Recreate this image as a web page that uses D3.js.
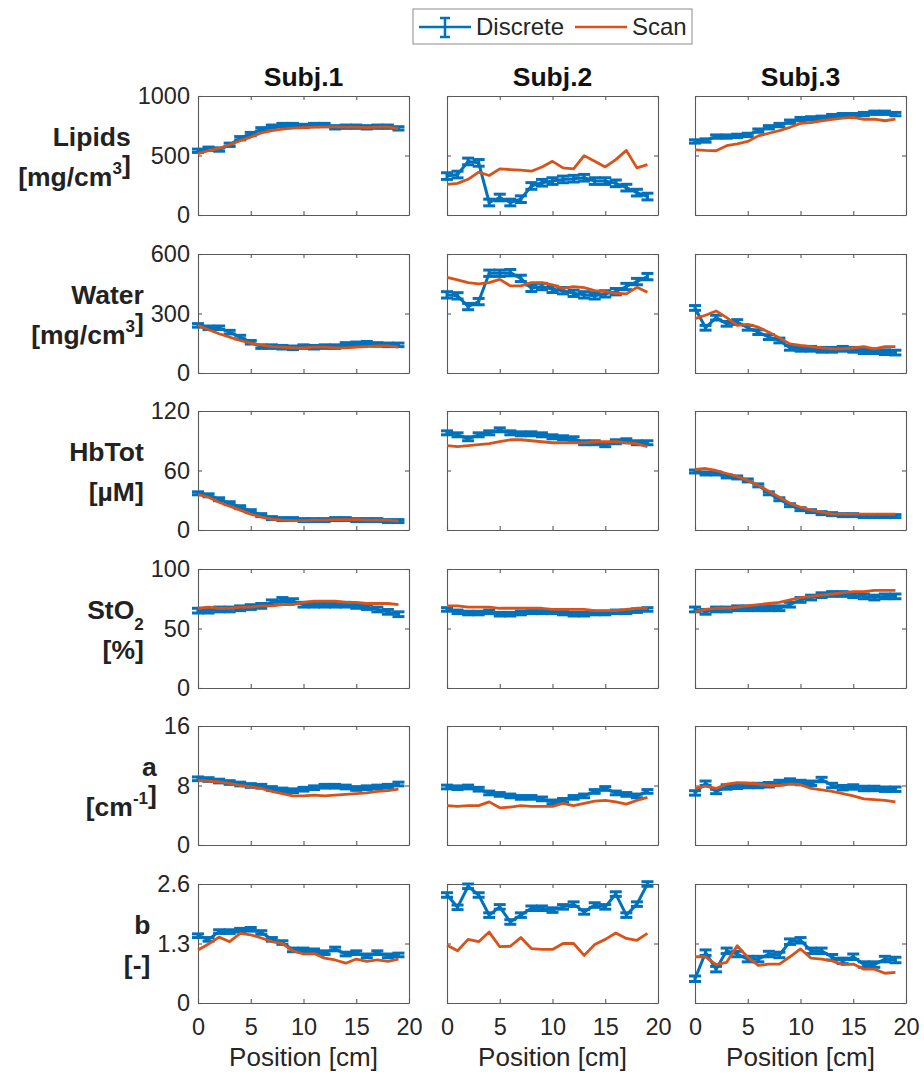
<!DOCTYPE html>
<html>
<head>
<meta charset="utf-8">
<script src="https://cdn.jsdelivr.net/npm/d3@7"></script>
<style>
body { margin: 0; background: #fff; }
svg text { font-family: "Liberation Sans", Arial, Helvetica, sans-serif; }
</style>
</head>
<body>
<div id="chart"></div>
<script>
// optical properties along the breast - discrete points vs. scan, 3 subjects

var subjects = ["Subj.1", "Subj.2", "Subj.3"];
var position = [0,1,2,3,4,5,6,7,8,9,10,11,12,13,14,15,16,17,18,19];
var xTicks = [0,5,10,15,20];

// Lipids [mg/cm3]
var lipidsDiscrete = [
    [540,557,550,590,645,680,720,742,756,756,748,756,756,737,742,742,737,742,742,728],
    [327,340,450,438,105,147,105,133,244,271,285,299,305,313,285,285,266,230,188,155],
    [618,626,659,659,665,673,709,737,756,784,806,812,817,831,839,839,848,859,859,848]
];
var lipidsScan = [
    [515,540,560,590,625,655,690,710,722,730,735,738,740,740,738,738,735,738,740,725],
    [258,266,300,360,332,388,382,377,368,404,451,396,388,499,451,404,465,543,396,424],
    [548,543,540,582,598,618,665,687,709,737,770,776,792,803,814,820,803,806,792,806]
];
var lipidsErr = [14, 28, 14];

// Water [mg/cm3]
var waterDiscrete = [
    [240,228,228,206,181,155,133,133,130,127,133,130,133,133,144,147,150,144,142,142],
    [394,389,335,360,503,503,506,477,427,436,422,415,402,394,389,399,410,436,461,486],
    [328,228,279,248,257,228,206,181,164,127,122,122,117,117,122,117,110,110,105,103]
];
var waterScan = [
    [240,218,198,181,164,150,140,133,130,127,127,130,130,127,127,130,133,137,137,130],
    [482,469,456,449,456,472,439,439,456,456,444,427,436,430,415,410,402,399,432,407],
    [274,291,313,279,240,245,231,206,177,147,139,133,127,122,122,127,133,122,133,133]
];
var waterErr = [9, 16, 12];

// HbTot [uM]
var hbDiscrete = [
    [37,35,31,27,23,19,15,12,11,11,10,10,10,11,11,10,10,10,9,9],
    [98,96,92,96,98,101,98,97,97,96,94,93,92,88,88,86,89,90,88,88],
    [59,57,57,54,53,50,45,37,31,25,21,19,17,16,15,15,14,14,14,14]
];
var hbScan = [
    [36,33,28,24,20,16,13,11,10,9.5,9.5,10,10,10.5,10.5,10.5,10,10,10,9],
    [85,84,85,86,87,89,91,91,90,89,88,88,88,88,89,89,89,88,87,84],
    [61,62,60,57,54,50,45,39,33,27,23,20,18,16,16,16,16,16,16,16]
];
var hbErr = [1.5, 2, 1.5];

// StO2 [%]
var sto2Discrete = [
    [65,65,66,66,67,68,69,72,74,73,70,70,70,70,70,69,68,66,64,62],
    [66,64,63,63,64,62,62,63,64,64,64,63,62,62,63,63,64,64,65,66],
    [66,64,66,66,67,67,67,67,67,70,74,76,78,79,79,78,77,76,77,77]
];
var sto2Scan = [
    [67,68,67,67,68,68,69,69,70,70,72,73,73,73,72,72,71,71,71,70],
    [69,69,68,68,68,67,67,67,67,67,66,66,66,66,65,65,65,66,67,67],
    [64,66,67,67,68,69,70,71,72,74,76,77,78,79,80,81,81,82,82,82]
];
var sto2Err = [2, 1.5, 2];

// a [cm-1]
var aDiscrete = [
    [8.9,8.8,8.6,8.4,8.2,8.0,7.9,7.6,7.4,7.3,7.5,7.7,7.9,7.9,7.8,7.6,7.7,7.8,7.9,8.2],
    [7.8,7.7,7.8,7.5,7.0,6.8,6.6,6.4,6.4,6.2,5.8,6.0,6.4,6.6,7.2,7.6,7.0,6.8,6.6,7.2],
    [7.0,8.3,7.2,7.8,7.9,8.0,8.0,8.1,8.4,8.6,8.4,8.3,8.8,8.0,7.7,7.8,7.6,7.6,7.5,7.5]
];
var aScan = [
    [8.7,8.6,8.5,8.3,8.0,7.8,7.6,7.2,6.9,6.6,6.6,6.7,6.6,6.7,6.8,6.9,7.0,7.2,7.3,7.5],
    [5.3,5.2,5.3,5.3,5.8,5.0,5.1,5.3,5.2,5.2,5.2,5.6,5.3,5.6,5.9,6.0,5.8,5.5,6.0,6.4],
    [7.6,7.9,7.6,8.2,8.4,8.3,8.2,8.0,8.0,8.2,8.1,7.6,7.4,7.2,6.9,6.6,6.2,6.1,6.0,5.8]
];
var aErr = [0.25, 0.25, 0.3];

// b [-]
var bDiscrete = [
    [1.47,1.39,1.56,1.56,1.59,1.61,1.54,1.39,1.32,1.16,1.16,1.14,1.10,1.18,1.07,1.10,1.03,1.10,1.03,1.05],
    [2.36,2.09,2.55,2.36,1.92,2.10,1.77,1.92,2.07,2.07,2.03,2.10,2.16,1.99,2.14,2.10,2.38,1.92,2.16,2.60],
    [0.53,1.10,0.74,1.14,1.07,0.96,0.96,1.07,1.05,1.34,1.37,1.14,1.14,1.00,0.92,1.01,0.84,0.84,0.96,0.94]
];
var bScan = [
    [1.16,1.29,1.44,1.34,1.52,1.49,1.42,1.34,1.30,1.14,1.07,1.08,0.98,0.94,0.87,0.96,0.91,0.94,0.91,0.96],
    [1.26,1.14,1.39,1.34,1.55,1.23,1.24,1.43,1.19,1.17,1.17,1.30,1.30,1.04,1.28,1.39,1.53,1.41,1.37,1.52],
    [1.01,1.01,0.84,0.89,1.25,1.00,0.82,0.85,0.85,1.01,1.18,0.98,0.96,0.92,0.84,0.85,0.74,0.74,0.65,0.67]
];
var bErr = [0.04, 0.05, 0.06];

var yMax = [1000, 600, 120, 100, 16, 2.6];
var yTicks = [[0,500,1000],[0,300,600],[0,60,120],[0,50,100],[0,8,16],[0,1.3,2.6]];

var rows = [
    {discrete: lipidsDiscrete, scan: lipidsScan, err: lipidsErr,
     label: [[{t:"Lipids"}], [{t:"[mg/cm"},{t:"3",sup:true},{t:"]"}]]},
    {discrete: waterDiscrete, scan: waterScan, err: waterErr,
     label: [[{t:"Water"}], [{t:"[mg/cm"},{t:"3",sup:true},{t:"]"}]]},
    {discrete: hbDiscrete, scan: hbScan, err: hbErr,
     label: [[{t:"HbTot"}], [{t:"[µM]"}]]},
    {discrete: sto2Discrete, scan: sto2Scan, err: sto2Err,
     label: [[{t:"StO"},{t:"2",sub:true}], [{t:"[%]"}]]},
    {discrete: aDiscrete, scan: aScan, err: aErr,
     label: [[{t:"a"}], [{t:"[cm"},{t:"-1",sup:true},{t:"]"}]]},
    {discrete: bDiscrete, scan: bScan, err: bErr,
     label: [[{t:"b"}], [{t:"[-]"}]]}
];

var blue = "#0072BD", orange = "#D95319", axisCol = "#5a5a5a", textCol = "#262626";
var colLeft = [198, 447, 695];
var rowTop = [96, 254, 411, 569, 726, 884];
var panelW = 211, panelH = 119;
var tickFont = 23.5;

var svg = d3.select("#chart").append("svg")
    .attr("width", 924)
    .attr("height", 1076);

var x = d3.scaleLinear().domain([0,20]).range([0,panelW]);

rows.forEach(function(row, r){
    var y = d3.scaleLinear().domain([0, yMax[r]]).range([panelH, 0]);
    var maxTickW = 0;

    subjects.forEach(function(subj, c){
        var g = svg.append("g")
            .attr("transform","translate(" + colLeft[c] + "," + rowTop[r] + ")");

        //axes (matlab box, ticks inward)
        g.append("g")
            .attr("transform","translate(0," + panelH + ")")
            .call(d3.axisBottom(x).tickValues(xTicks).tickSizeInner(-4).tickSizeOuter(0)
                .tickPadding(15).tickFormat(r == rows.length-1 ? d3.format("d") : ""));
        g.append("g")
            .call(d3.axisTop(x).tickValues(xTicks).tickSizeInner(-4).tickSizeOuter(0).tickFormat(""));
        var left = g.append("g")
            .call(d3.axisLeft(y).tickValues(yTicks[r]).tickSizeInner(-4).tickSizeOuter(0)
                .tickPadding(8).tickFormat(c == 0 ? function(d){ return d; } : ""));
        g.append("g")
            .attr("transform","translate(" + panelW + ",0)")
            .call(d3.axisRight(y).tickValues(yTicks[r]).tickSizeInner(-4).tickSizeOuter(0).tickFormat(""));

        g.selectAll(".domain").attr("stroke", axisCol).attr("stroke-width", 1.1);
        g.selectAll(".tick line").attr("stroke", axisCol).attr("stroke-width", 1.1);
        g.selectAll(".tick text")
            .attr("fill", textCol)
            .style("font-size", tickFont + "px");

        if(c == 0){
            left.selectAll(".tick text").each(function(){
                maxTickW = Math.max(maxTickW, this.getComputedTextLength());
            });
        }

        //discrete line + error bars
        var pts = position.map(function(p, i){
            return {x: p, v: row.discrete[c][i], e: row.err[c]};
        });
        g.append("path")
            .datum(pts)
            .attr("fill","none")
            .attr("stroke", blue)
            .attr("stroke-width", 3)
            .attr("stroke-linejoin","round")
            .attr("d", d3.line().x(d => x(d.x)).y(d => y(d.v)));

        var eb = g.append("g").selectAll("g")
            .data(pts)
            .enter()
            .append("g")
            .attr("stroke", blue)
            .attr("stroke-width", 3);
        eb.append("line")
            .attr("x1", d => x(d.x)).attr("x2", d => x(d.x))
            .attr("y1", d => y(d.v - d.e)).attr("y2", d => y(d.v + d.e));
        eb.append("line")
            .attr("x1", d => x(d.x) - 6).attr("x2", d => x(d.x) + 6)
            .attr("y1", d => y(d.v - d.e)).attr("y2", d => y(d.v - d.e));
        eb.append("line")
            .attr("x1", d => x(d.x) - 6).attr("x2", d => x(d.x) + 6)
            .attr("y1", d => y(d.v + d.e)).attr("y2", d => y(d.v + d.e));

        //scan line
        g.append("path")
            .datum(position.map(function(p, i){ return {x: p, v: row.scan[c][i]}; }))
            .attr("fill","none")
            .attr("stroke", orange)
            .attr("stroke-width", 2.8)
            .attr("stroke-linejoin","round")
            .attr("d", d3.line().x(d => x(d.x)).y(d => y(d.v)));

        //column titles
        if(r == 0){
            svg.append("text")
                .attr("x", colLeft[c] + panelW/2)
                .attr("y", rowTop[0] - 10)
                .attr("text-anchor","middle")
                .attr("font-weight","bold")
                .attr("font-size", 26.5)
                .attr("fill", "#111")
                .text(subj);
        }
        //x label
        if(r == rows.length-1){
            svg.append("text")
                .attr("x", colLeft[c] + panelW/2)
                .attr("y", rowTop[r] + panelH + 63)
                .attr("text-anchor","middle")
                .attr("font-size", 26)
                .attr("fill", textCol)
                .text("Position [cm]");
        }
    });

    //row label, right aligned next to the tick labels
    var rightX = colLeft[0] - 8 - maxTickW - 7;
    var cy = rowTop[r] + panelH/2;
    row.label.forEach(function(line, li){
        var t = svg.append("text")
            .attr("x", rightX)
            .attr("y", li == 0 ? cy - 10 : cy + 30)
            .attr("text-anchor","end")
            .attr("font-weight","bold")
            .attr("font-size", 26.5)
            .attr("fill", "#222");
        line.forEach(function(part){
            var ts = t.append("tspan").text(part.t);
            if(part.sup){
                ts.attr("dy", -12).attr("font-size", 17);
                t.append("tspan").attr("dy", 12).text("");
            } else if(part.sub){
                ts.attr("dy", 11).attr("font-size", 17);
            }
        });
    });
});

//legend
var lg = svg.append("g");
lg.append("rect")
    .attr("x", 413).attr("y", 9)
    .attr("width", 279).attr("height", 35)
    .attr("fill","#fff")
    .attr("stroke","#8c8c8c")
    .attr("stroke-width", 1);
lg.append("line")
    .attr("x1", 419).attr("x2", 471).attr("y1", 27).attr("y2", 27)
    .attr("stroke", blue).attr("stroke-width", 2.5);
lg.append("line")
    .attr("x1", 445).attr("x2", 445).attr("y1", 18).attr("y2", 37)
    .attr("stroke", blue).attr("stroke-width", 2.5);
lg.append("line")
    .attr("x1", 440).attr("x2", 450).attr("y1", 18).attr("y2", 18)
    .attr("stroke", blue).attr("stroke-width", 2.5);
lg.append("line")
    .attr("x1", 440).attr("x2", 450).attr("y1", 37).attr("y2", 37)
    .attr("stroke", blue).attr("stroke-width", 2.5);
lg.append("text")
    .attr("x", 476).attr("y", 35)
    .attr("font-size", 24).attr("fill", textCol)
    .text("Discrete");
lg.append("line")
    .attr("x1", 575).attr("x2", 627).attr("y1", 27).attr("y2", 27)
    .attr("stroke", orange).attr("stroke-width", 2.5);
lg.append("text")
    .attr("x", 632).attr("y", 35)
    .attr("font-size", 24).attr("fill", textCol)
    .text("Scan");
</script>
</body>
</html>
